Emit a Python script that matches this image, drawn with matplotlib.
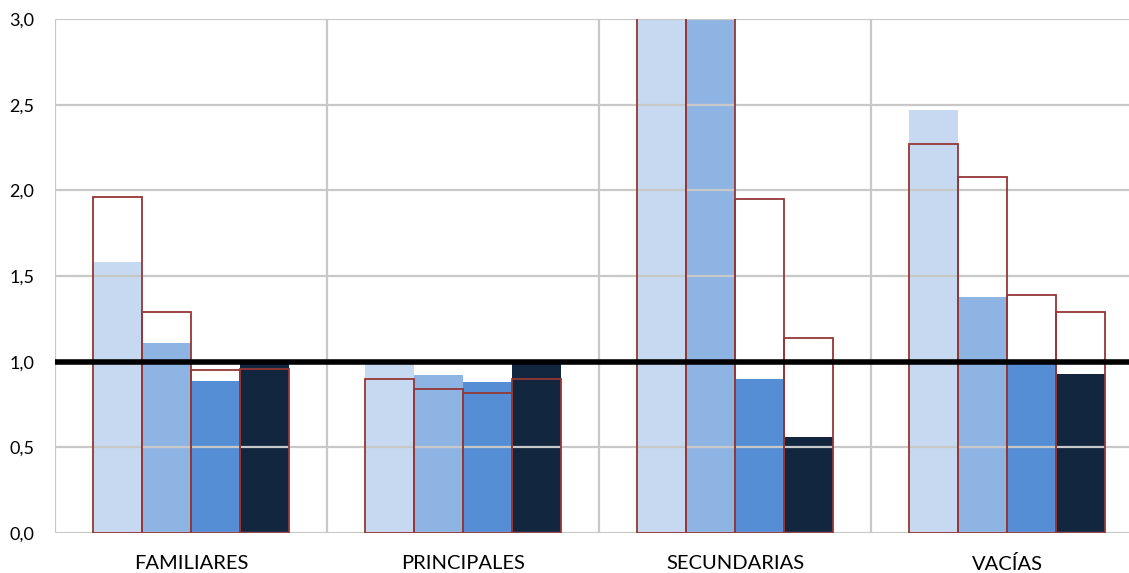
import numpy as np
import matplotlib.pyplot as plt

# categories and the two sets of values (filled bars vs red outline bars)
categories = ['FAMILIARES', 'PRINCIPALES', 'SECUNDARIAS', 'VACÍAS']
filled = [
    [1.58, 0.99, 3.60, 2.47],
    [1.11, 0.92, 3.30, 1.38],
    [0.89, 0.88, 0.90, 1.00],
    [0.99, 0.99, 0.56, 0.93],
]
outline = [
    [1.96, 0.90, 3.40, 2.27],
    [1.29, 0.84, 3.20, 2.08],
    [0.95, 0.82, 1.95, 1.39],
    [0.96, 0.90, 1.14, 1.29],
]
ref_value = 1.0

colors = ['#C6D9F1', '#8EB4E3', '#558ED5', '#12263F']
red = '#953735'
grid_col = '#C8C8C8'

plt.rcParams['font.family'] = ['Lato', 'DejaVu Sans']

fig = plt.figure(figsize=(11.29, 5.73), dpi=100)
ax = fig.add_axes([55 / 1129, 40 / 573, (1143 - 55) / 1129, 514 / 573])

x = np.arange(len(categories))
w = 0.181
offsets = (np.arange(4) - 1.5) * w

for i in range(4):
    ax.bar(x + offsets[i], filled[i], width=w, color=colors[i], zorder=1)

# gridlines drawn over the filled bars
for yv in np.arange(0.5, 3.01, 0.5):
    ax.axhline(yv, color=grid_col, lw=1.6, zorder=2)
for xv in np.arange(-0.5, len(categories), 1.0):
    ax.axvline(xv, color=grid_col, lw=1.6, zorder=2)

for i in range(4):
    ax.bar(x + offsets[i], outline[i], width=w, facecolor='none',
           edgecolor=red, linewidth=1.3, zorder=3)

ax.axhline(ref_value, color='black', lw=4, zorder=4)

ax.set_xlim(-0.5, len(categories) - 0.5)
ax.set_ylim(0, 3.0)
ax.set_xticks(x)
ax.set_xticklabels(categories, fontsize=14.5)
ax.set_yticks(np.arange(0, 3.01, 0.5))
ax.set_yticklabels([f'{v:.1f}'.replace('.', ',') for v in np.arange(0, 3.01, 0.5)],
                   fontsize=13)
ax.tick_params(axis='x', length=0, pad=16)
ax.tick_params(axis='y', length=0, pad=15)
for s in ax.spines.values():
    s.set_visible(False)
ax.axhline(0, color=grid_col, lw=1.6, zorder=2)

fig.savefig('out.png', dpi=100)
